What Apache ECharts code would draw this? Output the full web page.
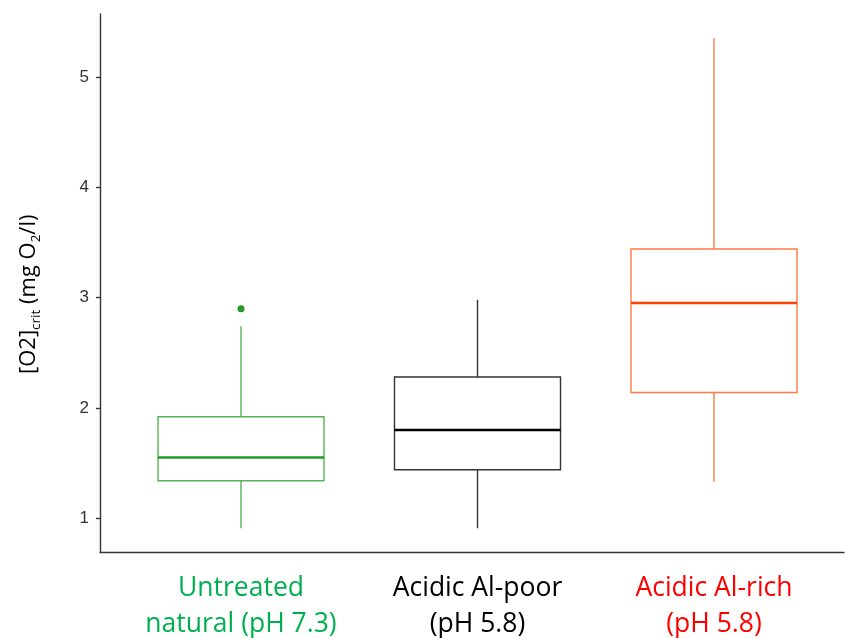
<!DOCTYPE html>
<html>
<head>
<meta charset="utf-8">
<script src="https://cdn.jsdelivr.net/npm/echarts@6/dist/echarts.min.js"></script>
<style>html,body{margin:0;padding:0;background:#fff;}#c{width:845px;height:638px;}</style>
</head>
<body>
<div id="c"></div>
<script>
// ---- data ----
const categories = ['Untreated\nnatural (pH 7.3)', 'Acidic Al-poor\n(pH 5.8)', 'Acidic Al-rich\n(pH 5.8)'];
const categoryPositions = [1, 2, 3];
const lowerWhisker = [0.91, 0.91, 1.33];
const q1 = [1.34, 1.44, 2.14];
const median = [1.55, 1.80, 2.95];
const q3 = [1.92, 2.28, 3.44];
const upperWhisker = [2.74, 2.98, 5.35];
const outlierGroup = [1];
const outlierValue = [2.90];
const yTicks = [1, 2, 3, 4, 5];

// ---- styles ----
const edgeColors = ['#55b555', '#333333', '#ff7a45'];
const medianColors = ['#239a23', '#000000', '#ff4000'];
const labelColors = ['#00b050', '#000000', '#ff0000'];
const labelStyles = ['g', 'k', 'r'];

const boxData = categoryPositions.map((x, i) => [x, lowerWhisker[i], q1[i], median[i], q3[i], upperWhisker[i]]);
const outlierData = outlierGroup.map((x, i) => [x, outlierValue[i]]);

const chart = echarts.init(document.getElementById('c'));
const font = "'Open Sans', 'Noto Sans', sans-serif";
chart.setOption({
  animation: false,
  backgroundColor: '#fff',
  grid: { left: 100, right: 1, top: 14, bottom: 85 },
  xAxis: {
    type: 'value',
    min: 0.4038,
    max: 3.5497,
    splitLine: { show: false },
    axisLine: { show: true, lineStyle: { color: '#333', width: 1.4 } },
    axisTick: { show: false },
    axisLabel: {
      customValues: categoryPositions,
      margin: 18,
      formatter: function (v) {
        const i = categoryPositions.indexOf(v);
        if (i < 0) return '';
        const s = labelStyles[i];
        return categories[i].split('\n').map(t => '{' + s + '|' + t + '}').join('\n');
      },
      rich: {
        g: { color: labelColors[0], fontSize: 26.5, fontFamily: font, lineHeight: 36 },
        k: { color: labelColors[1], fontSize: 26.5, fontFamily: font, lineHeight: 36 },
        r: { color: labelColors[2], fontSize: 26.5, fontFamily: font, lineHeight: 36 }
      }
    }
  },
  yAxis: {
    type: 'value',
    min: 0.69,
    max: 5.57,
    splitLine: { show: false },
    axisLine: { show: true, lineStyle: { color: '#333', width: 1.4 } },
    axisTick: { show: true, length: 4, customValues: yTicks, lineStyle: { color: '#333', width: 1.4 } },
    axisLabel: { customValues: yTicks, margin: 11, fontSize: 17, color: '#333', fontFamily: "'Liberation Sans', Arial, sans-serif" },
    name: '{a|[O2]}{s|crit}{a| (mg O}{s|2}{a|/l)}',
    nameLocation: 'middle',
    nameRotate: 90,
    nameGap: 57,
    nameTextStyle: {
      padding: [0, 22, 0, 0],
      rich: {
        a: { fontSize: 22, fontFamily: font, color: '#000', lineHeight: 29, verticalAlign: 'middle' },
        s: { fontSize: 13.5, fontFamily: font, color: '#000', lineHeight: 29, verticalAlign: 'bottom' }
      }
    }
  },
  series: [
    {
      type: 'custom',
      data: boxData,
      encode: { x: 0, y: [1, 2, 3, 4, 5] },
      renderItem: function (params, api) {
        const i = params.dataIndex;
        const x = api.value(0);
        const pLow = api.coord([x, api.value(1)]);
        const pQ1 = api.coord([x, api.value(2)]);
        const pMed = api.coord([x, api.value(3)]);
        const pQ3 = api.coord([x, api.value(4)]);
        const pHigh = api.coord([x, api.value(5)]);
        const halfW = api.size([0.702, 0])[0] / 2;
        const c = edgeColors[i];
        const lw = 1.4;
        return {
          type: 'group',
          children: [
            { type: 'line', shape: { x1: pLow[0], y1: pLow[1], x2: pQ1[0], y2: pQ1[1] }, style: { stroke: c, lineWidth: lw } },
            { type: 'line', shape: { x1: pQ3[0], y1: pQ3[1], x2: pHigh[0], y2: pHigh[1] }, style: { stroke: c, lineWidth: lw } },
            { type: 'rect', shape: { x: pQ1[0] - halfW, y: pQ3[1], width: 2 * halfW, height: pQ1[1] - pQ3[1] }, style: { fill: '#fff', stroke: c, lineWidth: lw } },
            { type: 'line', shape: { x1: pMed[0] - halfW, y1: pMed[1], x2: pMed[0] + halfW, y2: pMed[1] }, style: { stroke: medianColors[i], lineWidth: 2.5 } }
          ]
        };
      }
    },
    {
      type: 'scatter',
      data: outlierData,
      symbol: 'circle',
      symbolSize: 7,
      itemStyle: { color: medianColors[0], opacity: 1 }
    }
  ]
});
</script>
</body>
</html>
